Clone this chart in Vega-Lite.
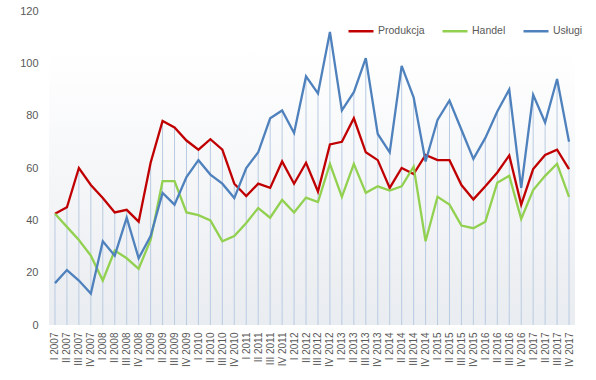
{
  "$schema": "https://vega.github.io/schema/vega-lite/v6.json",
  "autosize": {"type": "none"},
  "width": 526,
  "height": 314,
  "padding": {"left": 49, "top": 11, "right": 21, "bottom": 55},
  "background": "white",
  "config": {
    "view": {"stroke": null},
    "font": "Liberation Sans",
    "axis": {"labelColor": "#595959", "labelFont": "Liberation Sans"}
  },
  "data": {
    "values": [
      {"q": "I 2007", "Produkcja": 42.5, "Handel": 42.5, "Usługi": 16},
      {"q": "II 2007", "Produkcja": 45, "Handel": 37.5, "Usługi": 21},
      {"q": "III 2007", "Produkcja": 60, "Handel": 32.5, "Usługi": 17},
      {"q": "IV 2007", "Produkcja": 53.5, "Handel": 26.5, "Usługi": 12},
      {"q": "I 2008", "Produkcja": 48.5, "Handel": 17, "Usługi": 32},
      {"q": "II 2008", "Produkcja": 43, "Handel": 28.5, "Usługi": 26.5},
      {"q": "III 2008", "Produkcja": 44, "Handel": 25.5, "Usługi": 41},
      {"q": "IV 2008", "Produkcja": 39.5, "Handel": 21.5, "Usługi": 25.5},
      {"q": "I 2009", "Produkcja": 62, "Handel": 32.5, "Usługi": 34},
      {"q": "II 2009", "Produkcja": 78, "Handel": 55, "Usługi": 50.5},
      {"q": "III 2009", "Produkcja": 75.5, "Handel": 55, "Usługi": 46},
      {"q": "IV 2009", "Produkcja": 70.5, "Handel": 43, "Usługi": 56.5},
      {"q": "I 2010", "Produkcja": 67, "Handel": 42, "Usługi": 63},
      {"q": "II 2010", "Produkcja": 71, "Handel": 40, "Usługi": 57.5},
      {"q": "III 2010", "Produkcja": 67, "Handel": 32, "Usługi": 54},
      {"q": "IV 2010", "Produkcja": 54, "Handel": 34, "Usługi": 48.5},
      {"q": "I 2011", "Produkcja": 49.3, "Handel": 39, "Usługi": 60},
      {"q": "II 2011", "Produkcja": 54, "Handel": 44.7, "Usługi": 66},
      {"q": "III 2011", "Produkcja": 52.4, "Handel": 41, "Usługi": 79},
      {"q": "IV 2011", "Produkcja": 62.5, "Handel": 47.8, "Usługi": 82},
      {"q": "I 2012", "Produkcja": 54, "Handel": 43, "Usługi": 73.4},
      {"q": "II 2012", "Produkcja": 62, "Handel": 48.7, "Usługi": 95},
      {"q": "III 2012", "Produkcja": 51, "Handel": 47, "Usługi": 88.5},
      {"q": "IV 2012", "Produkcja": 69, "Handel": 61.6, "Usługi": 112},
      {"q": "I 2013", "Produkcja": 70, "Handel": 49, "Usługi": 82},
      {"q": "II 2013", "Produkcja": 79, "Handel": 61.6, "Usługi": 89},
      {"q": "III 2013", "Produkcja": 66, "Handel": 50.5, "Usługi": 102},
      {"q": "IV 2013", "Produkcja": 63, "Handel": 53, "Usługi": 73},
      {"q": "I 2014", "Produkcja": 52.4, "Handel": 51.4, "Usługi": 66},
      {"q": "II 2014", "Produkcja": 60, "Handel": 53, "Usługi": 99},
      {"q": "III 2014", "Produkcja": 57.7, "Handel": 60.5, "Usługi": 87},
      {"q": "IV 2014", "Produkcja": 65, "Handel": 32, "Usługi": 62.5},
      {"q": "I 2015", "Produkcja": 63, "Handel": 49, "Usługi": 78.4},
      {"q": "II 2015", "Produkcja": 63, "Handel": 46, "Usługi": 85.8},
      {"q": "III 2015", "Produkcja": 53.5, "Handel": 38, "Usługi": 74.6},
      {"q": "IV 2015", "Produkcja": 48, "Handel": 37, "Usługi": 63.5},
      {"q": "I 2016", "Produkcja": 53, "Handel": 39.5, "Usługi": 71.5},
      {"q": "II 2016", "Produkcja": 58.3, "Handel": 54.4, "Usługi": 81.6},
      {"q": "III 2016", "Produkcja": 64.8, "Handel": 57, "Usługi": 90},
      {"q": "IV 2016", "Produkcja": 46, "Handel": 40.5, "Usługi": 52.4},
      {"q": "I 2017", "Produkcja": 59.6, "Handel": 51.6, "Usługi": 88},
      {"q": "II 2017", "Produkcja": 65, "Handel": 57, "Usługi": 77.4},
      {"q": "III 2017", "Produkcja": 67, "Handel": 61.6, "Usługi": 94},
      {"q": "IV 2017", "Produkcja": 59.6, "Handel": 49, "Usługi": 70}
    ]
  },
  "transform": [
    {"fold": ["Produkcja", "Handel", "Usługi"], "as": ["series", "value"]}
  ],
  "layer": [
    {
      "mark": {
        "type": "rect",
        "color": {
          "gradient": "linear",
          "x1": 0, "y1": 0, "x2": 0, "y2": 1,
          "stops": [
            {"offset": 0, "color": "#ffffff"},
            {"offset": 0.12, "color": "#ffffff"},
            {"offset": 1, "color": "#e9ecf0"}
          ]
        }
      },
      "transform": [{"aggregate": [{"op": "count", "as": "n"}]}],
      "encoding": {}
    },
    {
      "mark": {"type": "rule", "color": "#b9cbe2", "strokeWidth": 1},
      "encoding": {
        "x": {"field": "q", "type": "ordinal", "sort": null},
        "y": {"aggregate": "max", "field": "value", "type": "quantitative"},
        "y2": {"datum": 0}
      }
    },
    {
      "mark": {"type": "line", "strokeWidth": 2.3, "strokeJoin": "miter"},
      "encoding": {
        "x": {
          "field": "q", "type": "ordinal", "sort": null,
          "scale": {"type": "point", "padding": 0.5},
          "axis": {
            "title": null, "labelAngle": -90, "labelFontSize": 10,
            "ticks": false, "domain": false, "labelPadding": 7,
            "labelAlign": "right", "labelBaseline": "middle"
          }
        },
        "y": {
          "field": "value", "type": "quantitative",
          "scale": {"domain": [0, 120], "nice": false},
          "axis": {
            "title": null, "values": [0, 20, 40, 60, 80, 100, 120],
            "grid": false, "ticks": false, "domain": false,
            "labelFontSize": 11, "labelPadding": 11
          }
        },
        "color": {
          "field": "series", "type": "nominal",
          "scale": {
            "domain": ["Produkcja", "Handel", "Usługi"],
            "range": ["#c00000", "#92d050", "#4f81bd"]
          },
          "legend": {
            "title": null, "orient": "none", "direction": "horizontal",
            "legendX": 298, "legendY": 6,
            "symbolType": "stroke", "symbolSize": 625, "symbolStrokeWidth": 2.5,
            "labelFontSize": 10.5, "labelColor": "#595959", "labelOffset": 3,
            "columnPadding": 12
          }
        }
      }
    }
  ]
}
